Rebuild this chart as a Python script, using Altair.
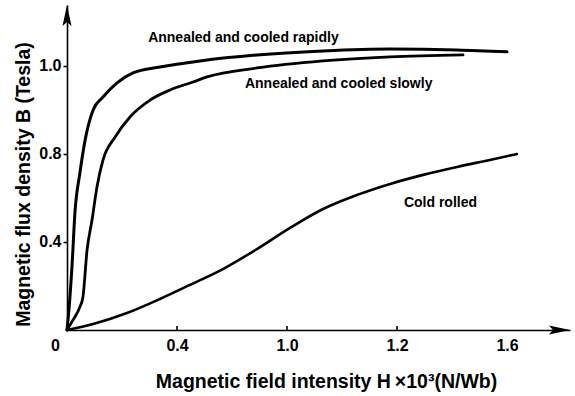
import altair as alt
import pandas as pd

FONT = "Liberation Sans"

# Magnetic field intensity H (axis units) and flux density B (axis units)
rapid_h = [0, 0.007, 0.018, 0.029, 0.047, 0.066, 0.095, 0.131, 0.182, 0.24, 0.338, 0.484, 0.691, 0.931, 1.175, 1.418, 1.6]
rapid_b = [0, 0.091, 0.286, 0.536, 0.714, 0.864, 1.0, 1.059, 1.123, 1.168, 1.195, 1.223, 1.25, 1.268, 1.277, 1.273, 1.264]

slow_h = [0, 0.022, 0.047, 0.058, 0.073, 0.091, 0.109, 0.131, 0.175, 0.229, 0.302, 0.375, 0.458, 0.509, 0.691, 0.931, 1.175, 1.44]
slow_b = [0, 0.046, 0.105, 0.15, 0.364, 0.5, 0.65, 0.773, 0.877, 0.968, 1.045, 1.091, 1.127, 1.15, 1.191, 1.223, 1.241, 1.25]

cold_h = [0, 0.095, 0.218, 0.338, 0.447, 0.567, 0.691, 0.811, 0.931, 1.055, 1.175, 1.295, 1.418, 1.538, 1.636]
cold_b = [0, 0.027, 0.077, 0.141, 0.205, 0.277, 0.368, 0.464, 0.55, 0.614, 0.664, 0.705, 0.741, 0.773, 0.8]

series_names = ["Annealed and cooled rapidly", "Annealed and cooled slowly", "Cold rolled"]
series_widths = [3.0, 2.6, 1.8]

x_tick_values = [0, 0.4, 0.8, 1.2, 1.6]
x_tick_labels = ["0", "0.4", "1.0", "1.2", "1.6"]
y_tick_values = [0.4, 0.8, 1.2]
y_tick_labels = ["0.4", "0.8", "1.0"]

label_h = [0.295, 0.647, 1.225]
label_b = [1.309, 1.10, 0.559]

x_max = 1.829
y_max = 1.477

rows = []
for name, hs, bs in zip(series_names, [rapid_h, slow_h, cold_h], [rapid_b, slow_b, cold_b]):
    for i, (h, b) in enumerate(zip(hs, bs)):
        rows.append({"series": name, "H": h, "B": b, "order": i})
df = pd.DataFrame(rows)

labels_df = pd.DataFrame({"text": series_names, "H": label_h, "B": label_b})
ticks_df = pd.DataFrame({"H": x_tick_values[1:4]})
arrows_df = pd.DataFrame({"H": [x_max, 0], "B": [0, y_max], "angle": [0, 270]})

x_scale = alt.Scale(domain=[0, x_max], nice=False, zero=False)
y_scale = alt.Scale(domain=[0, y_max], nice=False, zero=False)

x_label_expr = " : ".join(
    [f"datum.value == {v} ? '{l}'" for v, l in zip(x_tick_values, x_tick_labels)]
) + " : ''"
y_label_expr = " : ".join(
    [f"datum.value == {v} ? '{l}'" for v, l in zip(y_tick_values, y_tick_labels)]
) + " : ''"

x_axis = alt.Axis(
    values=x_tick_values,
    labelExpr=x_label_expr,
    tickSize=0,
    grid=False,
    domainColor="black",
    domainWidth=1.6,
    labelFont=FONT,
    labelFontSize=16,
    labelFontWeight="bold",
    labelColor="black",
    labelPadding=7,
    labelFlush=False,
    labelOffset={"condition": {"test": "datum.value == 0", "value": -12}, "value": 0},
    title="Magnetic field intensity H\u2009×10³(N/Wb)",
    titleFont=FONT,
    titleFontSize=19.5,
    titleFontWeight="bold",
    titleColor="black",
    titleX=259,
    titleY=57,
    titleAlign="center",
    titleBaseline="alphabetic",
)

y_axis = alt.Axis(
    values=y_tick_values,
    labelExpr=y_label_expr,
    tickSize=4,
    tickWidth=1.6,
    tickColor="black",
    grid=False,
    domainColor="black",
    domainWidth=1.6,
    labelFont=FONT,
    labelFontSize=16,
    labelFontWeight="bold",
    labelColor="black",
    labelPadding=2,
    title="Magnetic flux density B (Tesla)",
    titleFont=FONT,
    titleFontSize=19.5,
    titleFontWeight="bold",
    titleColor="black",
    titleX=-44,
    titleY=179,
    titleAngle=270,
    titleAlign="center",
    titleBaseline="middle",
)

lines = alt.Chart(df).mark_line(interpolate="monotone", color="black", strokeCap="round").encode(
    x=alt.X("H:Q", scale=x_scale, axis=x_axis),
    y=alt.Y("B:Q", scale=y_scale, axis=y_axis),
    detail="series:N",
    order="order:Q",
    strokeWidth=alt.StrokeWidth(
        "series:N", scale=alt.Scale(domain=series_names, range=series_widths), legend=None
    ),
)

texts = alt.Chart(labels_df).mark_text(
    align="left", baseline="alphabetic", font=FONT, fontSize=14, fontWeight="bold", color="black"
).encode(
    x=alt.X("H:Q", scale=x_scale),
    y=alt.Y("B:Q", scale=y_scale),
    text="text:N",
)

ticks = alt.Chart(ticks_df).mark_rule(color="black", strokeWidth=1.6).encode(
    x=alt.X("H:Q", scale=x_scale),
    y=alt.value(321),
    y2=alt.value(325),
)

arrows = alt.Chart(arrows_df).mark_point(
    shape="M0,0L-2.1,-0.45L-1.7,0L-2.1,0.45Z",
    filled=True,
    color="black",
    opacity=1,
    size=400,
    clip=False,
).encode(
    x=alt.X("H:Q", scale=x_scale),
    y=alt.Y("B:Q", scale=y_scale),
    angle=alt.Angle("angle:Q", scale=None),
)

chart = alt.layer(lines, ticks, texts, arrows).properties(
    width=503,
    height=325,
    autosize=alt.AutoSizeParams(type="none"),
    padding={"left": 67, "top": 5, "right": 5, "bottom": 66},
    background="white",
).configure_view(stroke=None)

chart.save("out.html", embed_options={"renderer": "svg", "actions": False})
